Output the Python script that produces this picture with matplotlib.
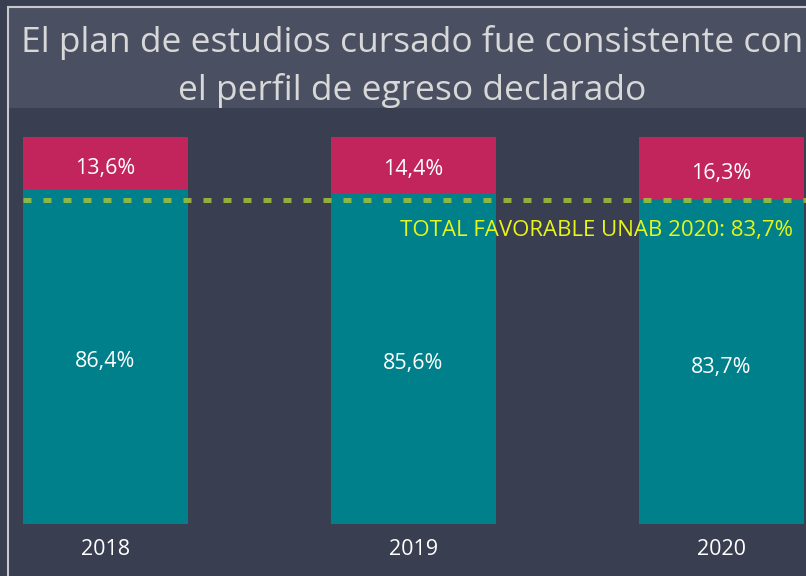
import matplotlib.pyplot as plt
from matplotlib.patches import Rectangle

years = ["2018", "2019", "2020"]
favorable = [86.4, 85.6, 83.7]
unfavorable = [13.6, 14.4, 16.3]
total_unab = 83.7

bg = "#393e50"
band = "#4a5061"
teal = "#00808a"
crimson = "#c2255c"

plt.rcParams["font.family"] = ["Open Sans", "DejaVu Sans"]

W, H = 806, 576
fig = plt.figure(figsize=(W / 100, H / 100), dpi=100)
fig.patch.set_facecolor(bg)

# title band and frame
fig.add_artist(Rectangle((9 / W, 1 - 108 / H), 1, 100 / H, transform=fig.transFigure,
                         facecolor=band, edgecolor="none"))
fig.add_artist(Rectangle((8 / W, -0.1), 1, 1.1 - 7 / H, transform=fig.transFigure,
                         facecolor="none", edgecolor="#c8c8cc", linewidth=1.5))
fig.text(412 / W, 1 - 43 / H, "El plan de estudios cursado fue consistente con",
         ha="center", va="center", color="#d8d8d8", fontsize=25.5)
fig.text(412 / W, 1 - 90 / H, "el perfil de egreso declarado",
         ha="center", va="center", color="#d8d8d8", fontsize=25.5)

ax = fig.add_axes([0, (H - 524) / H, 1, 387 / H])
ax.set_facecolor("none")
x = list(range(len(years)))
ax.bar(x, favorable, width=0.536, color=teal)
ax.bar(x, unfavorable, width=0.536, bottom=favorable, color=crimson)
ax.set_xlim(-105.5 / 308, (806 - 105.5) / 308)
ax.set_ylim(0, 100)
ax.axis("off")

for i in x:
    ax.text(i, favorable[i] / 2 - 1.3, f"{favorable[i]:.1f}%".replace(".", ","),
            ha="center", va="center", color="white", fontsize=15.5)
    ax.text(i, favorable[i] + unfavorable[i] / 2 - 1.3, f"{unfavorable[i]:.1f}%".replace(".", ","),
            ha="center", va="center", color="white", fontsize=15.5)
    ax.text(i, -6.5, years[i], ha="center", va="center", color="white",
            fontsize=15.5, clip_on=False)

ax.hlines(total_unab, -0.268, 2.3, color="#a6c23a", alpha=0.85, linewidth=3.6,
          linestyle=(0, (1.6, 2.4)))
label = "TOTAL FAVORABLE UNAB 2020: " + f"{total_unab:.1f}".replace(".", ",") + "%"
ax.text((793 - 105.5) / 308, total_unab - 7.8, label,
        ha="right", va="center", color="#e6f51a", fontsize=16)

fig.savefig("out.png", dpi=100, facecolor=bg)
